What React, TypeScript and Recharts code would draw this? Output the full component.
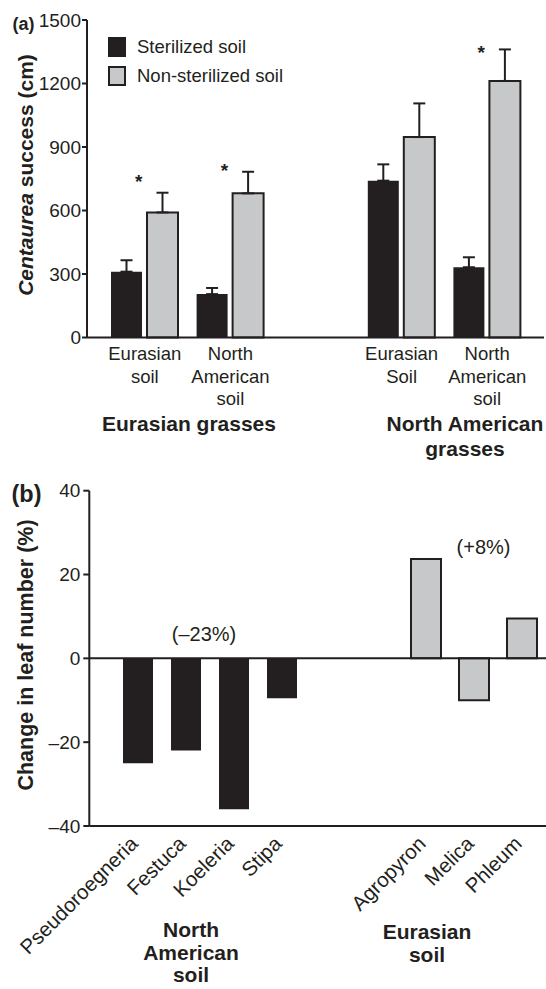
import React from 'react';
import {
  Bar,
  Cell,
  ComposedChart,
  ErrorBar,
  Legend,
  Line,
  ReferenceLine,
  XAxis,
  YAxis,
} from 'recharts';

const FONT = '"Liberation Sans", Arial, Helvetica, sans-serif';
const INK = '#231f20';
const GREY = '#c7c8ca';

// (a) Centaurea success by grass origin x soil
const soilKeys = ['eu-eu', 'eu-na', 'gap', 'na-eu', 'na-na'];
const soilLabels = [
  ['Eurasian', 'soil'],
  ['North', 'American', 'soil'],
  [],
  ['Eurasian', 'Soil'],
  ['North', 'American', 'soil'],
];
const seriesNames = ['Sterilized soil', 'Non-sterilized soil'];
const sterilized = [311, 205, null, 741, 332];
const sterilizedSE = [54, 29, null, 77, 47];
const nonSterilized = [591, 681, null, 947, 1212];
const nonSterilizedSE = [93, 102, null, 159, 149];
const starLevel = [760, 812, null, null, 1369];
const successTicks = [0, 300, 600, 900, 1200, 1500];

// (b) change in leaf number per species
const species = ['Pseudoroegneria', 'Festuca', 'Koeleria', 'Stipa', '', '', 'Agropyron', 'Melica', 'Phleum'];
const leafChange = [-25, -22, -36, -9.5, null, null, 23.7, -10, 9.5];
const soilOrigin = ['na', 'na', 'na', 'na', null, null, 'eu', 'eu', 'eu'];
const leafTicks = [-40, -20, 0, 20, 40];

const dataA = soilKeys.map((key, i) => ({
  key,
  sterilized: sterilized[i],
  sterilizedErr: sterilizedSE[i] == null ? null : [0, sterilizedSE[i]],
  nonSterilized: nonSterilized[i],
  nonSterilizedErr: nonSterilizedSE[i] == null ? null : [0, nonSterilizedSE[i]],
  star: starLevel[i],
}));

const dataB = species.map((name, i) => ({ id: String(i), name, change: leafChange[i], soil: soilOrigin[i] }));

const SoilTick = (props: any) => {
  const { x, y, payload } = props;
  const lines = soilLabels[soilKeys.indexOf(payload.value)] ?? [];
  return (
    <g>
      {lines.map((t, i) => (
        <text key={i} x={x} y={y + 22.5 + i * 22.7} textAnchor="middle" fontFamily={FONT} fontSize={18.5} fill={INK}>
          {t}
        </text>
      ))}
    </g>
  );
};

const SpeciesTick = (props: any) => {
  const { x, y, payload } = props;
  const label = species[Number(payload.value)];
  if (!label) return <g />;
  const ax = x + 1;
  const ay = y + 19;
  return (
    <text x={ax} y={ay} transform={`rotate(-45, ${ax}, ${ay})`} textAnchor="end" fontFamily={FONT} fontSize={20.5} fill={INK}>
      {label}
    </text>
  );
};

const StarDot = (props: any) => {
  const { cx, cy, value, index } = props;
  if (value == null || cx == null || cy == null) return <g key={`star-${index}`} />;
  return (
    <text key={`star-${index}`} x={cx - 6} y={cy + 11} textAnchor="middle" fontFamily={FONT} fontSize={19} fontWeight="bold" fill={INK}>
      *
    </text>
  );
};

const LegendBox = (props: any) => {
  const items = (props.payload ?? [])
    .filter((p: any) => seriesNames.includes(p.value))
    .sort((a: any, b: any) => seriesNames.indexOf(a.value) - seriesNames.indexOf(b.value));
  return (
    <div style={{ fontFamily: FONT, fontSize: 18.5, color: INK }}>
      {items.map((p: any) => (
        <div key={p.value} style={{ display: 'flex', alignItems: 'center', height: 29, whiteSpace: 'nowrap' }}>
          <span
            style={{
              display: 'inline-block',
              width: 18,
              height: 20,
              boxSizing: 'border-box',
              border: `2px solid ${INK}`,
              background: p.payload?.fill ?? p.color,
              marginRight: 11,
            }}
          />
          <span>{p.value}</span>
        </div>
      ))}
    </div>
  );
};

const axisStroke = { stroke: INK, strokeWidth: 2 };

export default function App() {
  return (
    <div style={{ position: 'absolute', left: 0, top: 0, width: 546, height: 989, background: '#fff', overflow: 'hidden' }}>
      <div style={{ position: 'absolute', left: 0, top: 0 }}>
        <ComposedChart
          width={546}
          height={470}
          data={dataA}
          margin={{ top: 20, right: 2, bottom: 0, left: 0 }}
          barSize={31}
          barGap={5}
        >
          <XAxis
            dataKey="key"
            interval={0}
            height={132.5}
            padding={{ left: 15, right: 14 }}
            axisLine={axisStroke}
            tickLine={false}
            tickSize={0}
            tickMargin={0}
            tick={<SoilTick />}
          />
          <YAxis
            width={87}
            domain={[0, 1500]}
            ticks={successTicks}
            interval={0}
            axisLine={axisStroke}
            tickLine={axisStroke}
            tickSize={5}
            tickMargin={1}
            tick={{ fontSize: 19, fill: INK, fontFamily: FONT }}
          />
          <Legend
            layout="horizontal"
            verticalAlign="middle"
            align="center"
            wrapperStyle={{ top: 32, left: 108, width: 'auto' }}
            content={<LegendBox />}
          />
          <Bar dataKey="sterilized" name={seriesNames[0]} fill={INK} isAnimationActive={false}>
            <ErrorBar dataKey="sterilizedErr" direction="y" width={6} stroke={INK} strokeWidth={2} />
          </Bar>
          <Bar dataKey="nonSterilized" name={seriesNames[1]} fill={GREY} stroke={INK} strokeWidth={2} isAnimationActive={false}>
            <ErrorBar dataKey="nonSterilizedErr" direction="y" width={6} stroke={INK} strokeWidth={2} />
          </Bar>
          <Line
            dataKey="star"
            stroke="none"
            dot={StarDot}
            activeDot={false}
            legendType="none"
            isAnimationActive={false}
          />
        </ComposedChart>
      </div>

      <div style={{ position: 'absolute', left: 0, top: 470 }}>
        <ComposedChart width={546} height={519} data={dataB} margin={{ top: 20.7, right: 0, bottom: 0, left: 0 }} barSize={30}>
          <XAxis
            dataKey="id"
            interval={0}
            height={163}
            padding={{ left: 24.7, right: 0 }}
            axisLine={axisStroke}
            tickLine={false}
            tickSize={0}
            tickMargin={0}
            tick={<SpeciesTick />}
          />
          <YAxis
            width={89.3}
            domain={[-40, 40]}
            ticks={leafTicks}
            interval={0}
            axisLine={axisStroke}
            tickLine={axisStroke}
            tickSize={6}
            tickMargin={3}
            tickFormatter={(v: number) => (v < 0 ? `\u2013${Math.abs(v)}` : String(v))}
            tick={{ fontSize: 19, fill: INK, fontFamily: FONT }}
          />
          <ReferenceLine y={0} stroke={INK} strokeWidth={2} />
          <Bar dataKey="change" isAnimationActive={false}>
            {dataB.map((d) => (
              <Cell
                key={d.id}
                fill={d.soil === 'eu' ? GREY : INK}
                stroke={d.soil === 'eu' ? INK : 'none'}
                strokeWidth={d.soil === 'eu' ? 2 : 0}
              />
            ))}
          </Bar>
        </ComposedChart>
      </div>

      <svg width={546} height={989} style={{ position: 'absolute', left: 0, top: 0, pointerEvents: 'none' }} fontFamily={FONT} fill={INK}>
        <text x={12.5} y={29.5} fontSize={18} fontWeight="bold">(a)</text>
        <text x={33} y={175} transform="rotate(-90, 33, 175)" textAnchor="middle" fontSize={21} fontWeight="bold">
          <tspan fontStyle="italic">Centaurea</tspan> success (cm)
        </text>
        <text x={189} y={431} textAnchor="middle" fontSize={21} fontWeight="bold">Eurasian grasses</text>
        <text x={465} y={430.5} textAnchor="middle" fontSize={21} fontWeight="bold">North American</text>
        <text x={465} y={456} textAnchor="middle" fontSize={21} fontWeight="bold">grasses</text>

        <text x={11.5} y={501.8} fontSize={23.5} fontWeight="bold">(b)</text>
        <text x={32.5} y={655} transform="rotate(-90, 32.5, 655)" textAnchor="middle" fontSize={21.5} fontWeight="bold">
          Change in leaf number (%)
        </text>
        <text x={204} y={640.8} textAnchor="middle" fontSize={20}>(–23%)</text>
        <text x={483.5} y={554} textAnchor="middle" fontSize={20}>(+8%)</text>
        <text x={191} y={937} textAnchor="middle" fontSize={21} fontWeight="bold">North</text>
        <text x={191} y={959.5} textAnchor="middle" fontSize={21} fontWeight="bold">American</text>
        <text x={191} y={982} textAnchor="middle" fontSize={21} fontWeight="bold">soil</text>
        <text x={427} y={939} textAnchor="middle" fontSize={21} fontWeight="bold">Eurasian</text>
        <text x={427} y={962} textAnchor="middle" fontSize={21} fontWeight="bold">soil</text>
      </svg>
    </div>
  );
}
